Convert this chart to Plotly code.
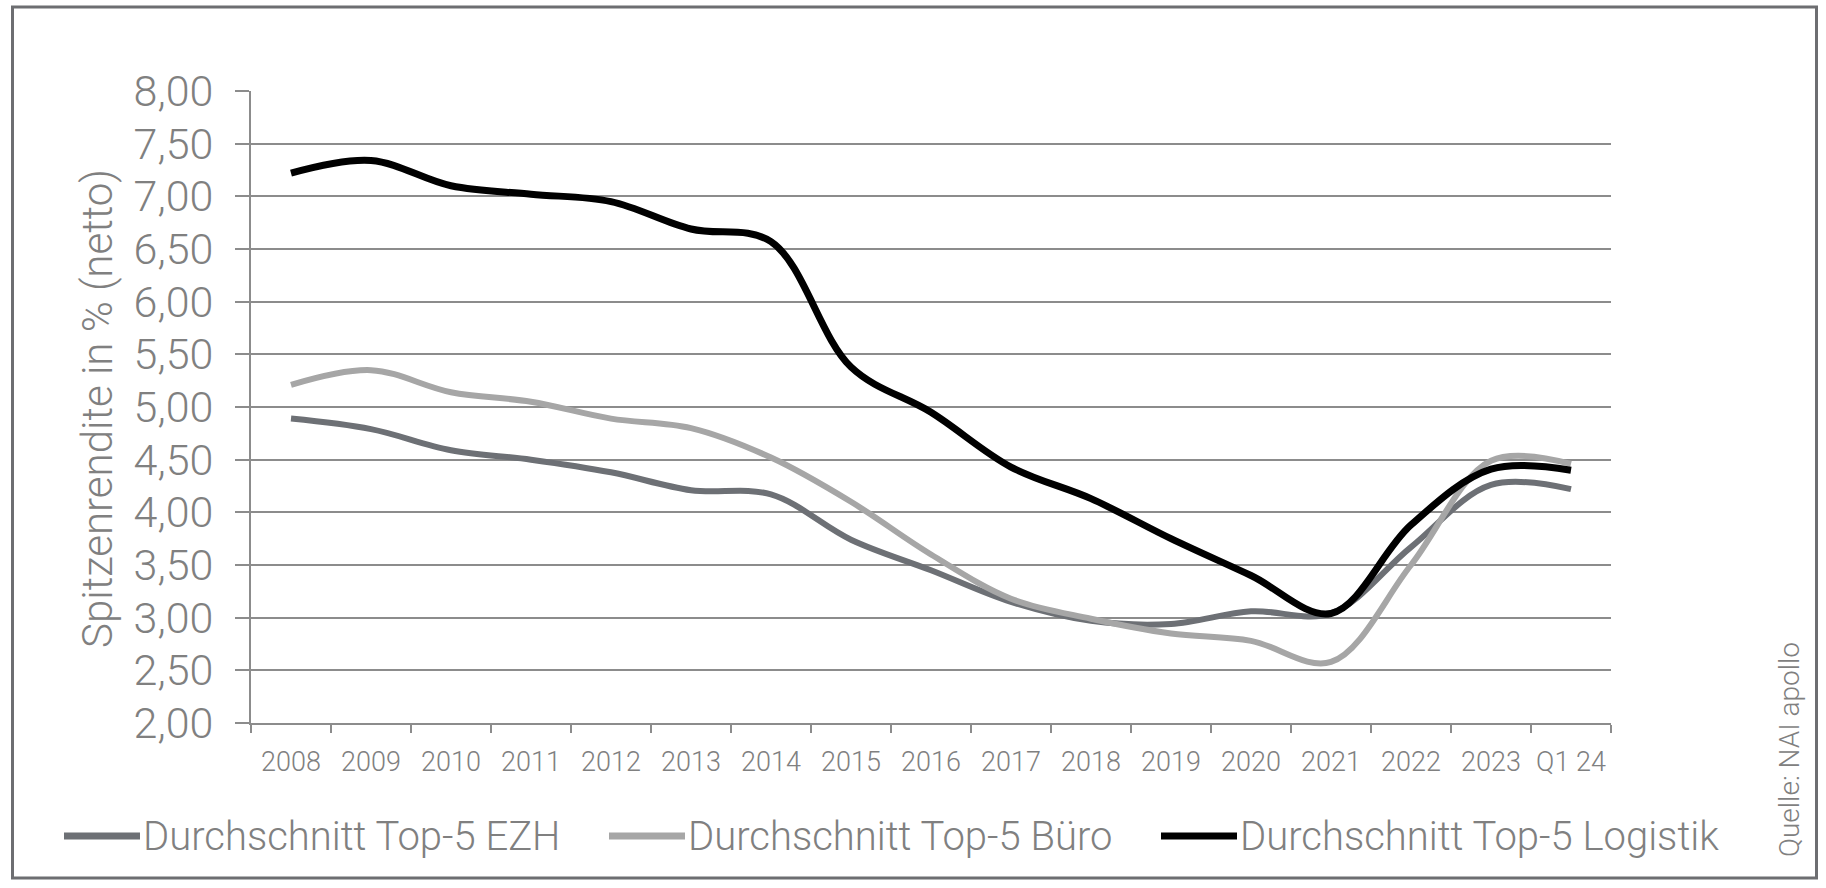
import plotly.graph_objects as go

# ---------------- data ----------------
categories = ["2008", "2009", "2010", "2011", "2012", "2013", "2014", "2015", "2016",
              "2017", "2018", "2019", "2020", "2021", "2022", "2023", "Q1 24"]
ezh = [4.89, 4.79, 4.59, 4.50, 4.38, 4.21, 4.17, 3.74, 3.45, 3.15, 2.97, 2.94, 3.06, 3.04, 3.67, 4.26, 4.22]
buero = [5.21, 5.35, 5.14, 5.05, 4.89, 4.80, 4.52, 4.10, 3.60, 3.18, 2.99, 2.85, 2.78, 2.58, 3.50, 4.49, 4.46]
logistik = [7.22, 7.34, 7.10, 7.02, 6.95, 6.69, 6.57, 5.38, 4.95, 4.43, 4.13, 3.75, 3.40, 3.04, 3.88, 4.41, 4.40]
series_names = ["Durchschnitt Top-5 EZH", "Durchschnitt Top-5 Büro", "Durchschnitt Top-5 Logistik"]
y_title = "Spitzenrendite in % (netto)"
source = "Quelle: NAI apollo"

# ---------------- style ----------------
W, H = 1826, 888
ML, MR, MT, MB = 251, 215, 91, 165
FONT = "Roboto"
WEIGHT = 300
TXT = "#808080"
GRID = "#8c8c8c"
colors = ["#6d7075", "#a6a6a6", "#000000"]
widths = [6, 6, 7]

PW, PH = W - ML - MR, H - MT - MB


def px(x):
    return (x - ML) / PW


def py(y):
    return (H - MB - y) / PH


def f(size):
    return dict(family=FONT, size=size, color=TXT, weight=WEIGHT)


fig = go.Figure()
for name, vals, c, w in zip(series_names, [ezh, buero, logistik], colors, widths):
    fig.add_trace(go.Scatter(x=categories, y=vals, name=name, mode="lines",
                             line=dict(color=c, width=w, shape="spline", smoothing=1),
                             showlegend=False, hoverinfo="x+y+name"))

shapes = []
annotations = []

# custom legend
leg_y = 836
leg_items = [(64, 140, 141), (609, 685, 686), (1161, 1237, 1238)]
for (x0, x1, xt), name, c in zip(leg_items, series_names, colors):
    shapes.append(dict(type="line", xref="paper", yref="paper",
                       x0=px(x0), x1=px(x1), y0=py(leg_y), y1=py(leg_y),
                       line=dict(color=c, width=7)))
    annotations.append(dict(xref="paper", yref="paper", x=px(xt), y=py(leg_y),
                            xanchor="left", yanchor="middle", showarrow=False,
                            text=name, font=f(40)))

# y title
annotations.append(dict(xref="paper", yref="paper", x=px(97), y=py(409),
                        xanchor="center", yanchor="middle", showarrow=False,
                        textangle=-90, text=y_title, font=f(42)))
# source
annotations.append(dict(xref="paper", yref="paper", x=px(1789), y=py(750),
                        xanchor="center", yanchor="middle", showarrow=False,
                        textangle=-90, text=source, font=f(28)))

# outer frame
shapes.append(dict(type="rect", xref="paper", yref="paper",
                   x0=px(12.5), x1=px(1816.5), y0=py(878), y1=py(7),
                   line=dict(color="#6d6e71", width=3), fillcolor="rgba(0,0,0,0)", layer="below"))

fig.update_layout(
    width=W, height=H, autosize=False,
    margin=dict(l=ML, r=MR, t=MT, b=MB, pad=0),
    paper_bgcolor="white", plot_bgcolor="white",
    separators=",.",
    font=f(26),
    shapes=shapes, annotations=annotations,
    xaxis=dict(type="category", range=[-0.5, len(categories) - 0.5],
               showgrid=False, showline=True, linecolor=GRID, linewidth=2,
               ticks="outside", tickson="boundaries", ticklen=8, tickwidth=2, tickcolor=GRID,
               tickfont=f(27), ticklabelstandoff=14,
               zeroline=False, fixedrange=True),
    yaxis=dict(range=[2, 8], dtick=0.5, tick0=2, tickformat=".2f",
               showgrid=True, gridcolor=GRID, gridwidth=2,
               showline=True, linecolor=GRID, linewidth=2,
               ticks="outside", ticklen=14, tickwidth=2, tickcolor=GRID,
               tickfont=f(43), ticklabelstandoff=13,
               zeroline=False, fixedrange=True),
)

fig.write_html("out.html", post_script="document.body.style.margin='0';",
               config={"displayModeBar": False})
